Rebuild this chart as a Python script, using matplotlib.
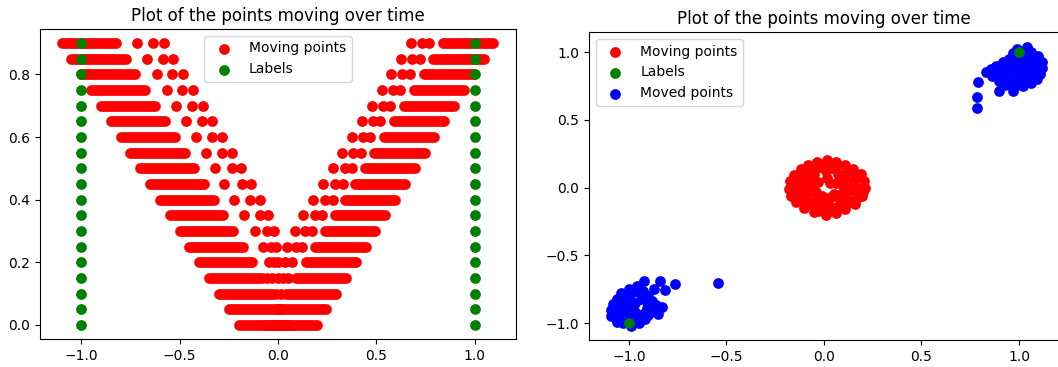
import matplotlib
import matplotlib.pyplot as plt

matplotlib.use('Agg')

# ---- left panel: one row per time step ----
row_y = [0.0, 0.05, 0.1, 0.15, 0.2, 0.25, 0.3, 0.35, 0.4, 0.45,
         0.5, 0.55, 0.6, 0.65, 0.7, 0.75, 0.8, 0.85, 0.9]

# dense runs of points (start / end of each run)
left_run_start = [-0.20, -0.25, -0.30, -0.35, -0.40, -0.45, -0.50, -0.55, -0.60, -0.65,
                  -0.70, -0.75, -0.80, -0.85, -0.90, -0.95, -1.00, -1.05, -1.10]
left_run_end = [0.07, 0.02, -0.03, -0.08, -0.13, -0.18, -0.23, -0.28, -0.325, -0.375,
                -0.425, -0.475, -0.525, -0.575, -0.625, -0.675, -0.725, -0.775, -0.825]
right_run_start = [-0.06, -0.01, 0.04, 0.09, 0.14, 0.19, 0.24, 0.29, 0.34, 0.39,
                   0.44, 0.49, 0.54, 0.59, 0.64, 0.69, 0.74, 0.79, 0.84]
right_run_end = [0.20, 0.245, 0.295, 0.345, 0.395, 0.445, 0.495, 0.545, 0.595, 0.645,
                 0.695, 0.745, 0.795, 0.845, 0.895, 0.945, 0.995, 1.045, 1.095]

# separate points between the runs
single_x = [-0.01, 0.015,
            -0.055, -0.03, 0.0, 0.025, 0.05,
            -0.045, -0.022, 0.0, 0.035, 0.07,
            -0.077, -0.038, -0.012, 0.046, 0.090, 0.124,
            -0.117, -0.057, -0.018, 0.084, 0.137, 0.175,
            -0.171, -0.094, -0.049, 0.128, 0.187, 0.225,
            -0.222, -0.142, -0.094, 0.179, 0.238, 0.279,
            -0.272, -0.185, -0.136, 0.230, 0.290, 0.330,
            -0.320, -0.235, -0.186, 0.280, 0.340, 0.378,
            -0.367, -0.285, -0.233, 0.327, 0.383, 0.420,
            -0.416, -0.336, -0.285, 0.377, 0.433, 0.470,
            -0.467, -0.386, -0.335, 0.427, 0.483, 0.520,
            -0.516, -0.437, -0.383, 0.477, 0.533, 0.570,
            -0.566, -0.487, -0.434, 0.527, 0.583, 0.620,
            -0.615, -0.537, -0.483, 0.577, 0.633, 0.670,
            -0.665, -0.587, -0.533, 0.627, 0.683, 0.720,
            -0.716, -0.636, -0.581, 0.677, 0.733, 0.770]
single_y = [0.1, 0.1,
            0.15, 0.15, 0.15, 0.15, 0.15,
            0.2, 0.2, 0.2, 0.2, 0.2,
            0.25, 0.25, 0.25, 0.25, 0.25, 0.25,
            0.3, 0.3, 0.3, 0.3, 0.3, 0.3,
            0.35, 0.35, 0.35, 0.35, 0.35, 0.35,
            0.4, 0.4, 0.4, 0.4, 0.4, 0.4,
            0.45, 0.45, 0.45, 0.45, 0.45, 0.45,
            0.5, 0.5, 0.5, 0.5, 0.5, 0.5,
            0.55, 0.55, 0.55, 0.55, 0.55, 0.55,
            0.6, 0.6, 0.6, 0.6, 0.6, 0.6,
            0.65, 0.65, 0.65, 0.65, 0.65, 0.65,
            0.7, 0.7, 0.7, 0.7, 0.7, 0.7,
            0.75, 0.75, 0.75, 0.75, 0.75, 0.75,
            0.8, 0.8, 0.8, 0.8, 0.8, 0.8,
            0.85, 0.85, 0.85, 0.85, 0.85, 0.85,
            0.9, 0.9, 0.9, 0.9, 0.9, 0.9]

label_x = [-1.0, 1.0]

# ---- right panel ----
moving_x = [0.21, 0.205, 0.19, 0.15, 0.11, 0.06, 0.015, -0.035, -0.08, -0.12, -0.155, -0.175,
            -0.18, -0.17, -0.145, -0.10, -0.05, 0.01, 0.06, 0.11, 0.16, 0.195, 0.20,
            0.156, 0.111, 0.041, -0.036, -0.10, -0.133, -0.126, -0.081, -0.011, 0.066, 0.13, 0.163,
            0.125, 0.11, 0.07, 0.01, -0.05, -0.09, -0.10, -0.085, -0.04, 0.02, 0.08, 0.12,
            0.06, -0.03, -0.04, 0.05, 0.015,
            0.09, -0.07, -0.065, 0.10, 0.16, -0.01, 0.03, -0.15, 0.18, 0.10, -0.065, 0.035,
            -0.01, 0.17, -0.14, -0.14, 0.17, 0.13, -0.10, 0.06, -0.03, 0.14, -0.12,
            0.08, -0.07, -0.08, 0.09, 0.03, -0.02]
moving_y = [0.0, 0.05, 0.10, 0.14, 0.17, 0.19, 0.20, 0.185, 0.17, 0.14, 0.095, 0.045,
            -0.01, -0.06, -0.105, -0.15, -0.18, -0.20, -0.185, -0.16, -0.12, -0.06, -0.03,
            0.051, 0.115, 0.148, 0.141, 0.096, 0.026, -0.051, -0.115, -0.148, -0.141, -0.096, -0.026,
            0.0, 0.065, 0.10, 0.12, 0.10, 0.06, 0.0, -0.06, -0.10, -0.115, -0.09, -0.05,
            0.03, 0.04, -0.03, -0.045, 0.07,
            0.04, 0.11, -0.125, -0.13, 0.09, 0.16, -0.16, 0.0, -0.01, 0.02, 0.02, -0.07,
            -0.06, 0.08, 0.05, -0.06, -0.08, 0.12, 0.13, 0.15, -0.17, -0.11, -0.09,
            0.06, 0.06, -0.04, -0.04, 0.03, -0.11]

target_x = [-1.0, 1.0]
target_y = [-1.0, 1.0]

moved_x = [0.785, 0.785, 0.79, 0.83, 0.855, 0.88, 0.87, 0.90, 0.90, 0.895, 0.93, 0.97,
           0.96, 0.925, 0.93, 0.95, 0.97, 0.99, 1.04, 1.06, 1.10, 1.12, 1.12, 1.11,
           1.09, 1.06, 1.02, 0.99, 1.00, 1.03, 1.06, 1.02, 0.98, 0.96, 1.05, 1.08, 0.94,
           1.00, 1.03, 1.08, 1.10, 1.04, 1.07, 1.00, 0.97, 0.95, 1.01, 1.06, 0.92, 0.86, 0.89,
           -0.762, -0.544, -0.924, -0.839, -0.873, -0.813,
           -1.0, -1.04, -1.06, -1.08, -1.09, -1.09, -1.06, -1.03, -0.99, -0.95, -0.92,
           -0.90, -0.87, -0.86, -0.88, -0.90, -0.93, -0.96, -1.0, -1.02, -1.03, -0.99,
           -0.97, -0.97, -0.94, -1.05, -0.91, -0.83, -0.85,
           -1.05, -1.07, -1.00, -0.96, -0.93, -0.90, -0.94, -0.98, -1.02, -0.99, -1.06, -0.89, -0.86]
moved_y = [0.59, 0.666, 0.776, 0.855, 0.875, 0.90, 0.84, 0.86, 0.79, 0.71, 0.76, 0.71,
           0.78, 0.82, 0.88, 0.95, 0.99, 1.02, 1.035, 1.0, 0.97, 0.93, 0.88, 0.84,
           0.80, 0.77, 0.75, 0.76, 0.82, 0.86, 0.90, 0.93, 0.89, 0.85, 0.95, 0.86, 0.90,
           0.97, 1.00, 0.93, 0.90, 0.82, 0.83, 0.86, 0.92, 0.81, 0.79, 0.80, 0.93, 0.82, 0.87,
           -0.715, -0.707, -0.69, -0.69, -0.749, -0.756,
           -0.75, -0.78, -0.82, -0.86, -0.90, -0.95, -0.98, -1.0, -1.02, -1.0, -0.97,
           -0.94, -0.91, -0.87, -0.84, -0.80, -0.76, -0.73, -0.80, -0.86, -0.92, -0.95,
           -0.92, -0.85, -0.82, -0.94, -0.89, -0.88, -0.93,
           -0.86, -0.92, -0.98, -0.96, -0.93, -0.86, -0.78, -0.77, -0.82, -0.88, -0.99, -0.90, -0.90]

dot_size = 60
run_width = dot_size ** 0.5

fig = plt.figure(figsize=(10.58, 3.67), dpi=100)

ax1 = fig.add_axes([0.0378, 0.0763, 0.4499, 0.8447])
for y, a, b, c, d in zip(row_y, left_run_start, left_run_end,
                         right_run_start, right_run_end):
    ax1.plot([a, b], [y, y], color='red', lw=run_width, solid_capstyle='round')
    ax1.plot([c, d], [y, y], color='red', lw=run_width, solid_capstyle='round')
ax1.scatter(single_x, single_y, s=dot_size, linewidths=0, color='red', label='Moving points')
ax1.scatter(label_x * len(row_y), [y for y in row_y for _ in label_x],
            s=dot_size, linewidths=0, color='green', label='Labels', zorder=3)
ax1.set_xlim(-1.21, 1.21)
ax1.set_ylim(-0.045, 0.945)
ax1.set_title('Plot of the points moving over time')
ax1.legend(loc='upper center')

ax2 = fig.add_axes([0.5567, 0.0736, 0.4442, 0.8392])
ax2.scatter(moving_x, moving_y, s=dot_size, linewidths=0, color='red', label='Moving points')
ax2.scatter(target_x, target_y, s=dot_size, linewidths=0, color='green', label='Labels', zorder=3)
ax2.scatter(moved_x, moved_y, s=dot_size, linewidths=0, color='blue', label='Moved points')
ax2.set_xlim(-1.205, 1.205)
ax2.set_ylim(-1.125, 1.148)
ax2.set_title('Plot of the points moving over time')
ax2.legend(loc='upper left')

fig.savefig('out.png', dpi=100)
